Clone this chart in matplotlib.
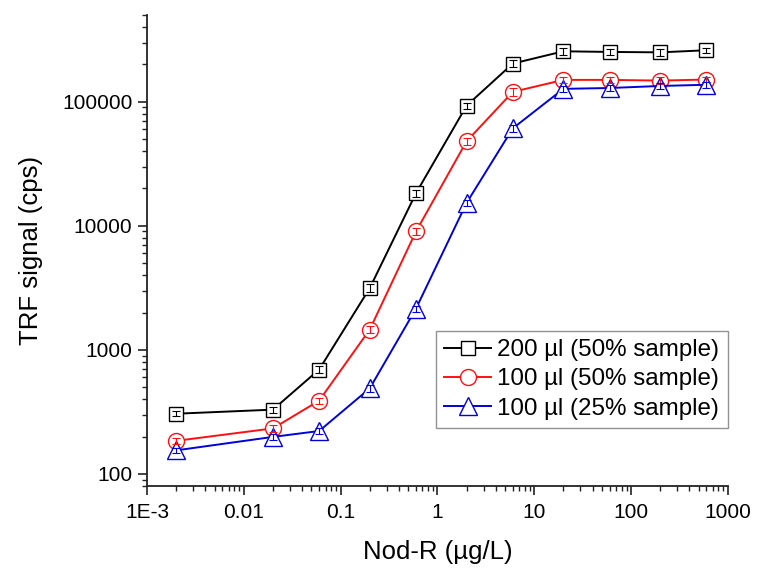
"""
Nod-R dose response (TRF signal) for three sample volumes, log-log.
"""

import numpy as np
import matplotlib
matplotlib.use('Agg')
import matplotlib.pyplot as plt
from matplotlib.ticker import FixedLocator, FixedFormatter, LogLocator, NullFormatter

plt.rcParams['font.family'] = ['Liberation Sans', 'DejaVu Sans']

# Concentrations (ug/L)
conc = [0.002, 0.02, 0.06, 0.2, 0.6, 2, 6, 20, 60, 200, 600]

# TRF signal (cps)
sig_200_50 = [306, 330, 695, 3150, 18300, 93000, 203000, 255000, 252000, 250000, 260000]
sig_100_50 = [185, 233, 390, 1460, 9000, 48000, 120000, 150000, 150000, 148000, 151000]
sig_100_25 = [155, 199, 222, 490, 2150, 15300, 61000, 127000, 129000, 134000, 137000]

# small replicate error (relative), mostly hidden inside the symbols
rel_err = [0.05, 0.06, 0.06, 0.07, 0.06, 0.06, 0.07, 0.06, 0.06, 0.06, 0.05]

labels = ['200 µl (50% sample)', '100 µl (50% sample)', '100 µl (25% sample)']
x_ticks = [1e-3, 1e-2, 1e-1, 1, 10, 100, 1000]
x_tick_labels = ['1E-3', '0.01', '0.1', '1', '10', '100', '1000']
y_ticks = [100, 1000, 10000, 100000]
y_tick_labels = ['100', '1000', '10000', '100000']


def main():
	fig = plt.figure(figsize=(7.59, 5.77), dpi=100)
	ax = fig.add_axes([0.1937, 0.1577, 0.959 - 0.1937, 0.974 - 0.1577])

	series = [
		(sig_200_50, 'black', 's', 10.5),
		(sig_100_50, '#ff1010', 'o', 11.5),
		(sig_100_25, '#0000d8', '^', 13),
	]
	for (vals, color, marker, ms), lab in zip(series, labels):
		vals = np.asarray(vals, dtype=float)
		err = vals * np.asarray(rel_err)
		ax.plot(conc, vals, color=color, lw=1.4, marker=marker, ms=ms,
				mfc='white', mec=color, mew=1.0, label=lab, zorder=3)
		ax.errorbar(conc, vals, yerr=err, fmt='none', ecolor=color,
					elinewidth=0.8, capsize=3, capthick=0.8, zorder=4)

	ax.set_xscale('log')
	ax.set_yscale('log')
	ax.set_xlim(1e-3, 1000)
	ax.set_ylim(80, 5e5)

	ax.xaxis.set_major_locator(FixedLocator(x_ticks))
	ax.xaxis.set_major_formatter(FixedFormatter(x_tick_labels))
	ax.xaxis.set_minor_locator(LogLocator(base=10, subs=np.arange(2, 10), numticks=20))
	ax.xaxis.set_minor_formatter(NullFormatter())
	ax.yaxis.set_major_locator(FixedLocator(y_ticks))
	ax.yaxis.set_major_formatter(FixedFormatter(y_tick_labels))
	ax.yaxis.set_minor_locator(LogLocator(base=10, subs=np.arange(2, 10), numticks=20))
	ax.yaxis.set_minor_formatter(NullFormatter())

	for side in ['top', 'right']:
		ax.spines[side].set_visible(False)
	for side in ['left', 'bottom']:
		ax.spines[side].set_linewidth(1.3)
		ax.spines[side].set_color('#222222')

	ax.tick_params(which='major', direction='out', length=6.5, width=1.2,
				   labelsize=15, pad=4, colors='#222222', labelcolor='black')
	ax.tick_params(axis='x', which='major', pad=6)
	ax.tick_params(which='minor', direction='out', length=3.5, width=1.0, colors='#222222')

	ax.set_xlabel('Nod-R (µg/L)', fontsize=18.5, labelpad=13)
	ax.set_ylabel('TRF signal (cps)', fontsize=18.5, labelpad=14)

	leg = ax.legend(loc='lower right', bbox_to_anchor=(1.0, 0.123), fontsize=17.4,
					frameon=True, fancybox=False, edgecolor='#777777',
					borderpad=0.35, handlelength=1.95, handletextpad=0.25,
					labelspacing=0.3, borderaxespad=0)
	leg.get_frame().set_linewidth(1.0)

	fig.savefig('out.png', dpi=100)
	plt.close(fig)


if __name__ == '__main__':
	main()
